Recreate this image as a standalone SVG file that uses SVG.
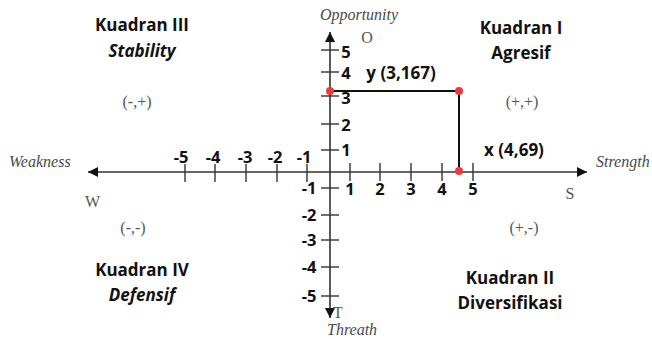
<svg xmlns="http://www.w3.org/2000/svg" width="652" height="339" viewBox="0 0 652 339">
<style>
.b{font-family:"Open Sans","Noto Sans",sans-serif;font-weight:bold;font-size:17px;fill:#111;text-anchor:middle}
.bi{font-family:"Open Sans","Noto Sans",sans-serif;font-weight:bold;font-style:italic;font-size:17px;fill:#111;text-anchor:middle}
.n{font-family:"Open Sans","Noto Sans",sans-serif;font-weight:bold;font-size:16.5px;fill:#111;text-anchor:middle}
.s{font-family:"Liberation Serif",serif;font-size:16px;fill:#555}
.si{font-family:"Liberation Serif",serif;font-style:italic;font-size:16px;fill:#4a4a4a}
.ax{stroke:#333;stroke-width:1.6;fill:none}
.tk{stroke:#333;stroke-width:1.4}
.ln{stroke:#111;stroke-width:2;fill:none}
.pt{fill:#f03a3a}
</style>
<defs>
<marker id="ah" viewBox="0 0 10 10" refX="10" refY="5" markerWidth="12" markerHeight="10" markerUnits="userSpaceOnUse" orient="auto">
<path d="M0,0 L10,5 L0,10 z" fill="#111"/>
</marker>
</defs>
<rect width="652" height="339" fill="#fff"/>
<g id="connectors">
<line class="ax" x1="330" y1="172" x2="587" y2="172" marker-end="url(#ah)"/>
<line class="ax" x1="330" y1="172" x2="88" y2="172" marker-end="url(#ah)"/>
<line class="ax" x1="330" y1="172" x2="330" y2="32" marker-end="url(#ah)"/>
<line class="ax" x1="330" y1="172" x2="330" y2="318" marker-end="url(#ah)"/>
<g class="tk">
<line x1="185" y1="164" x2="185" y2="182"/><line x1="215" y1="164" x2="215" y2="182"/><line x1="246" y1="164" x2="246" y2="182"/><line x1="277" y1="164" x2="277" y2="182"/><line x1="307" y1="164" x2="307" y2="182"/>
<line x1="350" y1="163" x2="350" y2="181"/><line x1="380" y1="163" x2="380" y2="181"/><line x1="411" y1="163" x2="411" y2="181"/><line x1="442" y1="163" x2="442" y2="181"/><line x1="473" y1="163" x2="473" y2="181"/>
<line x1="321" y1="50" x2="339" y2="50"/><line x1="321" y1="72" x2="339" y2="72"/><line x1="321" y1="96" x2="339" y2="96"/><line x1="321" y1="124" x2="339" y2="124"/><line x1="321" y1="150" x2="339" y2="150"/>
<line x1="321" y1="188" x2="339" y2="188"/><line x1="321" y1="215" x2="339" y2="215"/><line x1="321" y1="240" x2="339" y2="240"/><line x1="321" y1="267" x2="339" y2="267"/><line x1="321" y1="296" x2="339" y2="296"/>
</g>
<polyline class="ln" points="330,91 459,91 459,171"/>
</g>
<g id="axis-labels">
<text class="n" x="181" y="163">-5</text><text class="n" x="213" y="163">-4</text><text class="n" x="245" y="163">-3</text><text class="n" x="275" y="163">-2</text><text class="n" x="304" y="163">-1</text>
<text class="n" x="350" y="195">1</text><text class="n" x="380" y="195">2</text><text class="n" x="411" y="195">3</text><text class="n" x="442" y="195">4</text><text class="n" x="473" y="195">5</text>
<text class="n" x="346" y="58">5</text><text class="n" x="346" y="79">4</text><text class="n" x="346" y="104">3</text><text class="n" x="346" y="131">2</text><text class="n" x="346" y="156">1</text>
<text class="n" x="309" y="194">-1</text><text class="n" x="309" y="221">-2</text><text class="n" x="309" y="246">-3</text><text class="n" x="309" y="273">-4</text><text class="n" x="309" y="302">-5</text>
</g>
<g id="opportunity"><text class="si" x="359" y="20" text-anchor="middle">Opportunity</text><text class="s" x="367" y="43" text-anchor="middle">O</text></g>
<g id="threat"><text class="s" x="333" y="318">T</text><text class="si" x="327" y="335">Threath</text></g>
<g id="weakness"><text class="si" x="9" y="167">Weakness</text><text class="s" x="85" y="207">W</text></g>
<g id="strength"><text class="si" x="596" y="167">Strength</text><text class="s" x="570" y="199" text-anchor="middle">S</text></g>
<g id="kuadran-1"><text class="b" x="521" y="34">Kuadran I</text><text class="b" x="521" y="59">Agresif</text><text class="s" x="522" y="107" text-anchor="middle">(+,+)</text></g>
<g id="kuadran-2"><text class="s" x="524" y="233" text-anchor="middle">(+,-)</text><text class="b" x="510" y="284">Kuadran II</text><text class="b" x="510" y="309">Diversifikasi</text></g>
<g id="kuadran-3"><text class="b" x="142" y="31">Kuadran III</text><text class="bi" x="142" y="57">Stability</text><text class="s" x="137" y="107" text-anchor="middle">(-,+)</text></g>
<g id="kuadran-4"><text class="s" x="133" y="233" text-anchor="middle">(-,-)</text><text class="b" x="142" y="276">Kuadran IV</text><text class="bi" x="142" y="301">Defensif</text></g>
<g id="point-y"><circle class="pt" cx="330" cy="91" r="4"/><text class="b" x="401" y="79">y (3,167)</text></g>
<g id="point-corner"><circle class="pt" cx="459" cy="91" r="4"/></g>
<g id="point-x"><circle class="pt" cx="459" cy="171" r="4"/><text class="b" x="514" y="156">x (4,69)</text></g>
</svg>
